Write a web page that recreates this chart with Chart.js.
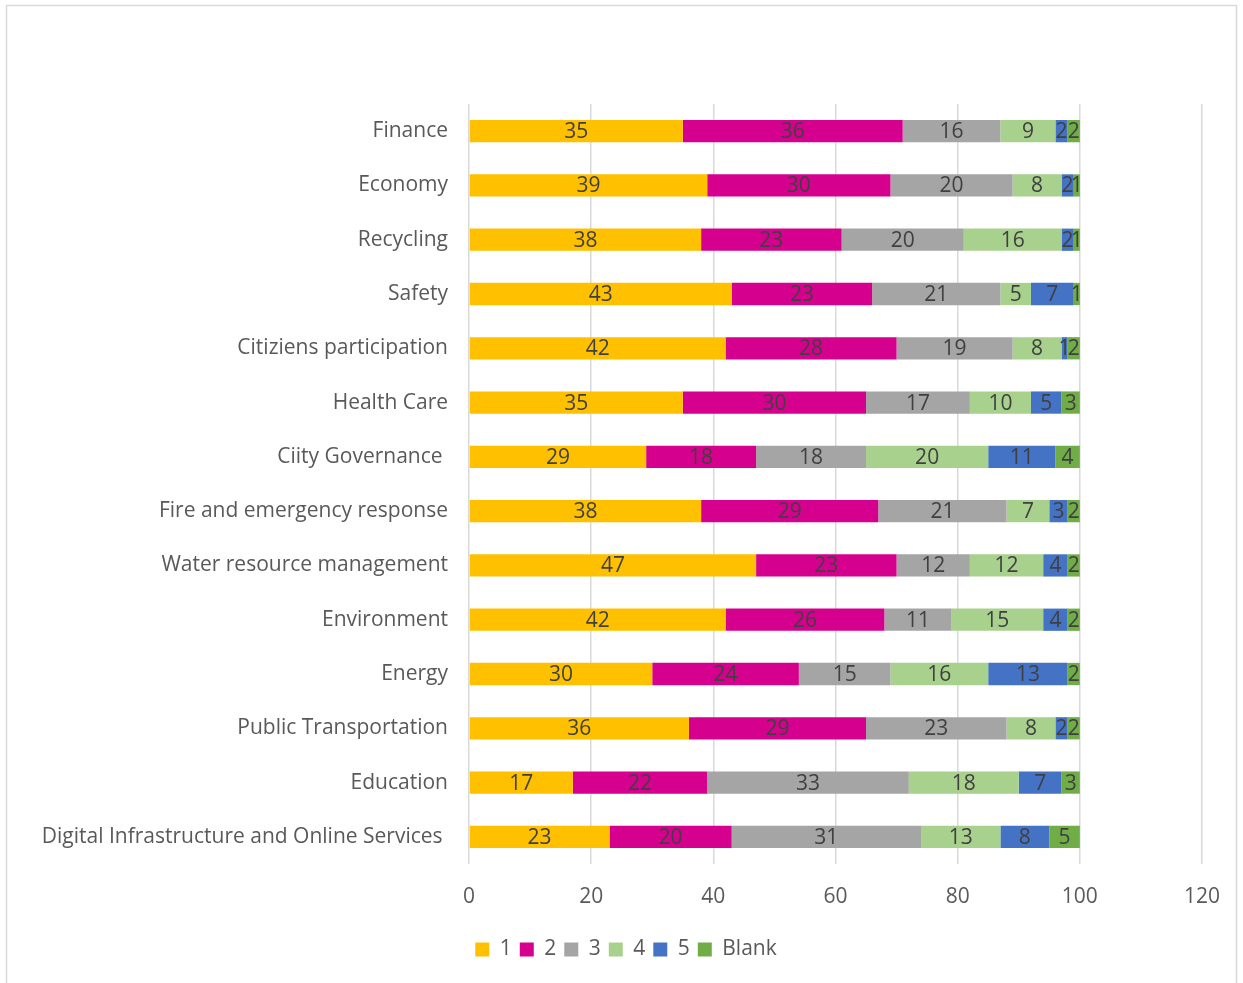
<!DOCTYPE html>
<html>
<head>
<meta charset="utf-8">
<script src="https://cdn.jsdelivr.net/npm/chart.js@4/dist/chart.umd.min.js"></script>
<style>
  html, body { margin: 0; padding: 0; background: #fff; }
  #wrap { width: 1243px; height: 983px; }
</style>
</head>
<body>
<div id="wrap"><canvas id="chart" width="1243" height="983"></canvas></div>
<script>
const categories = [
  'Finance', 'Economy', 'Recycling', 'Safety', 'Citiziens participation',
  'Health Care', 'Ciity Governance ', 'Fire and emergency response',
  'Water resource management', 'Environment', 'Energy',
  'Public Transportation', 'Education', 'Digital Infrastructure and Online Services '
];
const score1 = [35, 39, 38, 43, 42, 35, 29, 38, 47, 42, 30, 36, 17, 23];
const score2 = [36, 30, 23, 23, 28, 30, 18, 29, 23, 26, 24, 29, 22, 20];
const score3 = [16, 20, 20, 21, 19, 17, 18, 21, 12, 11, 15, 23, 33, 31];
const score4 = [9, 8, 16, 5, 8, 10, 20, 7, 12, 15, 16, 8, 18, 13];
const score5 = [2, 2, 2, 7, 1, 5, 11, 3, 4, 4, 13, 2, 7, 8];
const blank  = [2, 1, 1, 1, 2, 3, 4, 2, 2, 2, 2, 2, 3, 5];
const xTicks = [0, 20, 40, 60, 80, 100, 120];

const FONT = '"Open Sans", Lato, sans-serif';
const FONT_SIZE = 21;
const textColor = '#595959';

function series(label, data, color) {
  return {
    label, data,
    backgroundColor: color,
    borderColor: color,
    borderWidth: 0,
    barPercentage: 0.41,
    categoryPercentage: 1
  };
}

// value labels centred in each segment
const segmentLabels = {
  id: 'segmentLabels',
  afterDatasetsDraw(chart) {
    const ctx = chart.ctx;
    ctx.save();
    ctx.font = FONT_SIZE + 'px ' + FONT;
    ctx.fillStyle = '#404040';
    ctx.textAlign = 'center';
    ctx.textBaseline = 'middle';
    chart.data.datasets.forEach((ds, i) => {
      chart.getDatasetMeta(i).data.forEach((bar, j) => {
        const cx = (bar.x + bar.base) / 2;
        ctx.fillText(String(ds.data[j]), cx, bar.y + 1);
      });
    });
    ctx.restore();
  }
};

// outer frame, and nudge the legend so it sits under the plot
const frame = {
  id: 'frame',
  afterLayout(chart) {
    chart.legend.left += 10;
    chart.legend.right += 10;
  },
  beforeDraw(chart) {
    const ctx = chart.ctx;
    ctx.save();
    ctx.strokeStyle = '#d9d9d9';
    ctx.lineWidth = 1.5;
    ctx.strokeRect(6.5, 5.5, 1230, 1000);
    ctx.restore();
  }
};

new Chart(document.getElementById('chart'), {
  type: 'bar',
  data: {
    labels: categories,
    datasets: [
      series('1', score1, '#FFC000'),
      series('2', score2, '#D6008F'),
      series('3', score3, '#A5A5A5'),
      series('4', score4, '#A9D18E'),
      series('5', score5, '#4472C4'),
      series('Blank', blank, '#70AD47')
    ]
  },
  options: {
    indexAxis: 'y',
    responsive: false,
    animation: false,
    layout: { padding: { top: 104, left: 30, right: 41, bottom: 13 } },
    plugins: {
      tooltip: { enabled: false },
      legend: {
        position: 'bottom',
        labels: {
          color: textColor,
          font: { family: FONT, size: FONT_SIZE },
          boxWidth: 14,
          boxHeight: 14,
          padding: 8
        }
      }
    },
    scales: {
      x: {
        stacked: true,
        min: 0,
        max: 120,
        afterBuildTicks(scale) { scale.ticks = xTicks.map(v => ({ value: v })); },
        afterFit(scale) { scale.height = 67; },
        border: { display: false },
        grid: { color: '#d9d9d9', lineWidth: 1.5, drawTicks: false },
        ticks: {
          color: textColor,
          font: { family: FONT, size: FONT_SIZE },
          padding: 20
        }
      },
      y: {
        stacked: true,
        afterFit(scale) { scale.width = 439; },
        border: { display: false },
        grid: { display: false },
        ticks: {
          color: textColor,
          font: { family: FONT, size: FONT_SIZE },
          padding: 13
        }
      }
    }
  },
  plugins: [frame, segmentLabels]
});
</script>
</body>
</html>
